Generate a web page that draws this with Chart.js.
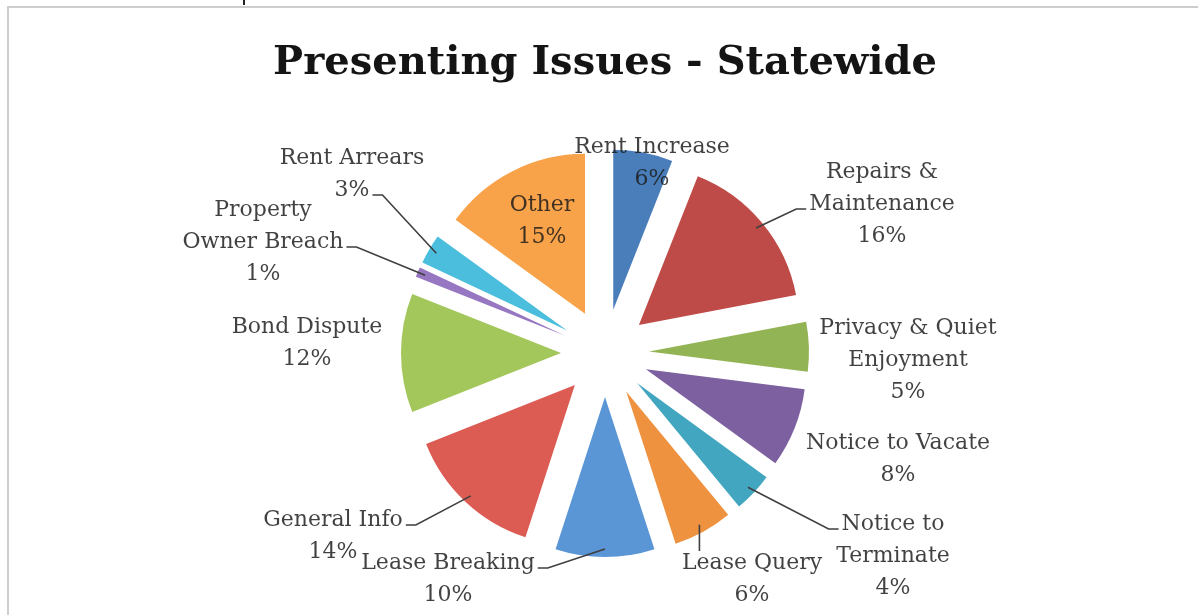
<!DOCTYPE html>
<html>
<head>
<meta charset="utf-8">
<script src="https://cdn.jsdelivr.net/npm/chart.js@4.4.1/dist/chart.umd.min.js"></script>
<style>
  html, body { margin: 0; padding: 0; background: #fff; overflow: hidden; }
  #frame {
    position: absolute; left: 7px; top: 6px; width: 1300px; height: 700px;
    border-top: 2px solid #cdcdcd; border-left: 2px solid #cdcdcd;
  }
  #tick { position: absolute; left: 243px; top: 0; width: 2px; height: 5px; background: #222; }
  #c { position: absolute; left: 0; top: 0; }
</style>
</head>
<body>
<div id="frame"></div>
<div id="tick"></div>
<canvas id="c" width="1198" height="615"></canvas>
<script>
// Presenting issues, share of contacts (%)
const categories = [
  "Rent Increase", "Repairs & Maintenance", "Privacy & Quiet Enjoyment",
  "Notice to Vacate", "Notice to Terminate", "Lease Query", "Lease Breaking",
  "General Info", "Bond Dispute", "Property Owner Breach", "Rent Arrears", "Other"
];
const values = [6, 16, 5, 8, 4, 6, 10, 14, 12, 1, 3, 15];
const colors = [
  "#4a7ebb", "#be4b48", "#93b455", "#7d60a0", "#43a6c0", "#ee9240",
  "#5a96d6", "#dc5b53", "#a3c75a", "#9777c2", "#4cbedd", "#f8a349"
];

// how each category name wraps in its data label
const labelLines = [
  ["Rent Increase"], ["Repairs &", "Maintenance"], ["Privacy & Quiet", "Enjoyment"],
  ["Notice to Vacate"], ["Notice to", "Terminate"], ["Lease Query"], ["Lease Breaking"],
  ["General Info"], ["Bond Dispute"], ["Property", "Owner Breach"], ["Rent Arrears"], ["Other"]
];
// label block centre, relative to the pie centre
const labelSpots = [
  [47, -190], [277, -149], [303, 7], [293, 106], [288, 203], [147, 226],
  [-157, 226], [-272, 183], [-298, -10], [-342, -111], [-253, -179], [-63, -132]
];
// leader line: [side of the label it joins, line index] or null
const leaders = [
  null, ["left", 1], null, null, ["left", 0], ["top", 0],
  ["right", 0], ["right", 0], null, ["right", 1], ["right", 1], null
];

const EXPLODE = 44;
const LINE_H = 32;
const LABEL_FONT = "22px 'DejaVu Serif'";

// pie slice pushed out along its bisector
class ExplodedArc extends Chart.ArcElement {
  draw(ctx) {
    const mid = (this.startAngle + this.endAngle) / 2;
    ctx.save();
    ctx.translate(Math.cos(mid) * EXPLODE, Math.sin(mid) * EXPLODE);
    super.draw(ctx);
    ctx.restore();
  }
}
ExplodedArc.id = "explodedArc";

class ExplodedPie extends Chart.PieController {}
ExplodedPie.id = "explodedPie";
ExplodedPie.defaults = { dataElementType: "explodedArc" };

Chart.register(ExplodedArc, ExplodedPie);

const sliceLabels = {
  id: "sliceLabels",
  afterDatasetsDraw(chart) {
    const ctx = chart.ctx;
    const meta = chart.getDatasetMeta(0);
    ctx.save();
    ctx.font = LABEL_FONT;
    ctx.textAlign = "center";
    ctx.textBaseline = "middle";
    ctx.lineWidth = 1.6;
    ctx.strokeStyle = "#3f3f3f";
    ctx.fillStyle = "rgba(26,26,26,0.83)";

    meta.data.forEach((arc, i) => {
      const { x, y, startAngle, endAngle, outerRadius } = arc;
      const mid = (startAngle + endAngle) / 2;
      const lines = [...labelLines[i], values[i] + "%"];
      const cx = x + labelSpots[i][0];
      const cy = y + labelSpots[i][1];
      const top = cy - (lines.length - 1) * LINE_H / 2;

      const lead = leaders[i];
      if (lead) {
        const r = EXPLODE + outerRadius - 8;
        const ax = x + Math.cos(mid) * r;
        const ay = y + Math.sin(mid) * r;
        const [side, k] = lead;
        const w = ctx.measureText(lines[k]).width;
        const ly = top + k * LINE_H + 5;
        ctx.beginPath();
        ctx.moveTo(ax, ay);
        if (side === "left") {
          const ex = cx - w / 2 - 3;
          ctx.lineTo(ex - 10, ly);
          ctx.lineTo(ex, ly);
        } else if (side === "right") {
          const ex = cx + w / 2 + 3;
          ctx.lineTo(ex + 10, ly);
          ctx.lineTo(ex, ly);
        } else {
          ctx.lineTo(ax, top - LINE_H / 2 + 4);
        }
        ctx.stroke();
      }

      lines.forEach((t, k) => ctx.fillText(t, cx, top + k * LINE_H));
    });
    ctx.restore();
  }
};

new Chart(document.getElementById("c"), {
  type: "explodedPie",
  data: {
    labels: categories,
    datasets: [{
      data: values,
      backgroundColor: colors,
      borderWidth: 0
    }]
  },
  options: {
    responsive: false,
    animation: false,
    radius: 160,
    layout: { padding: { left: 12, right: 0, top: 0, bottom: 6 } },
    plugins: {
      legend: { display: false },
      tooltip: { enabled: false },
      title: {
        display: true,
        text: "Presenting Issues - Statewide",
        color: "#141414",
        font: { family: "'DejaVu Serif'", size: 40, weight: "bold", lineHeight: 1.2 },
        padding: { top: 40, bottom: 9 }
      }
    }
  },
  plugins: [sliceLabels]
});
</script>
</body>
</html>
